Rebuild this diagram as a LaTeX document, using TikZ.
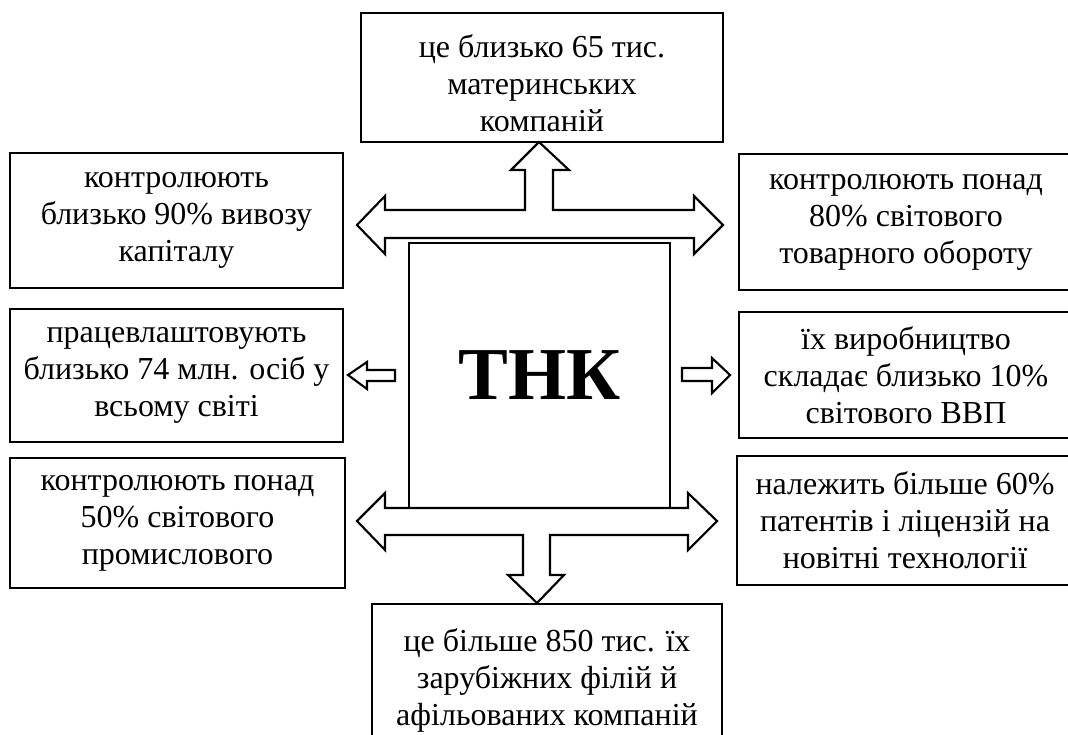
\documentclass[tikz,border=0pt]{standalone}
\usepackage{fontspec}
\setmainfont{Liberation Serif}
\begin{document}
\begin{tikzpicture}[x=0.75pt,y=-0.75pt,
  box/.style={draw=black,line width=1.6pt,align=center,inner sep=0pt,
    font=\fontsize{24}{27.75}\selectfont},
  blockarrow/.style={draw=black,line width=1.6pt,fill=white,line join=miter}]
\useasboundingbox (0,0) rectangle (1068,735);
% boxes
\node[box,minimum width=362*0.75pt,minimum height=129*0.75pt] (top) at (542,77.5) {};
\node[align=center,inner sep=0pt,font=\fontsize{24}{27.75}\selectfont] (toptext) at (542,83)
  {це близько 65 тис.\\материнських\\компаній};
\node[box,minimum width=333*0.75pt,minimum height=135*0.75pt] (l1) at (176.5,220.5)
  {контролюють\\близько 90\% вивозу\\капіталу};
\node[box,minimum width=333*0.75pt,minimum height=133*0.75pt] (l2) at (176.5,375.5)
  {працевлаштовують\\близько 74 млн. осіб у\\всьому світі};
\node[box,minimum width=335*0.75pt,minimum height=130*0.75pt] (l3) at (177.5,523)
  {контролюють понад\\50\% світового\\промислового};
\node[box,minimum width=334*0.75pt,minimum height=136*0.75pt] (r1) at (906,222)
  {контролюють понад\\80\% світового\\товарного обороту};
\node[box,minimum width=334*0.75pt,minimum height=126*0.75pt] (r2) at (906,375)
  {їх виробництво\\складає близько 10\%\\світового ВВП};
\node[box,minimum width=336*0.75pt,minimum height=129*0.75pt] (r3) at (905,520.5)
  {належить більше 60\%\\патентів і ліцензій на\\новітні технології};
\node[box,minimum width=350*0.75pt,minimum height=152*0.75pt] (bot) at (547,680)
  {це більше 850 тис. їх\\зарубіжних філій й\\афільованих компаній};
\node[draw=black,line width=1.6pt,minimum width=261*0.75pt,minimum height=265*0.75pt,
  font=\fontsize{56}{60}\selectfont\bfseries] (tnk) at (539.5,375.5) {ТНК};
% upper T-shaped block arrow
\draw[blockarrow] (539,142) -- (569,170) -- (553,170) -- (553,210) -- (694,210) -- (694,196)
  -- (723,225) -- (694,254) -- (694,238) -- (385,238) -- (385,254) -- (357,225)
  -- (385,196) -- (385,210) -- (525,210) -- (525,170) -- (511,170) -- cycle;
% lower T-shaped block arrow
\draw[blockarrow] (385,508) -- (688,508) -- (688,493) -- (717,521) -- (688,550) -- (688,535)
  -- (550,535) -- (550,575) -- (564,575) -- (537,603) -- (508,575) -- (523,575)
  -- (523,535) -- (385,535) -- (385,550) -- (357,521) -- (385,493) -- cycle;
% small left arrow
\draw[blockarrow] (348,375) -- (367,362) -- (367,370) -- (395,370) -- (395,381)
  -- (367,381) -- (367,389) -- cycle;
% small right arrow
\draw[blockarrow] (730,375) -- (712,358) -- (712,368) -- (682,368) -- (682,381)
  -- (712,381) -- (712,393) -- cycle;
\end{tikzpicture}
\end{document}
